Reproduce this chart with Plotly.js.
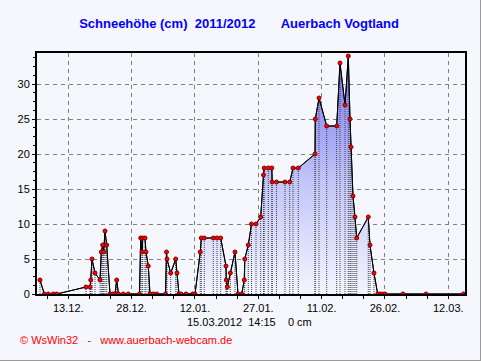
<!DOCTYPE html>
<html>
<head>
<meta charset="utf-8">
<script src="https://cdn.plot.ly/plotly-3.0.1.min.js"></script>
<style>
  html, body { margin: 0; padding: 0; background: #F5F7FD; }
  #chart { width: 480px; height: 360px; border-right: 1px solid #9a9a9a; border-bottom: 1px solid #9a9a9a; }
</style>
</head>
<body>
<div id="chart"></div>
<script>
// Snow depth readings (date/time, cm)
const readingTimes = [
  '2011-12-06 07:12','2011-12-07 07:40','2011-12-08 06:14','2011-12-09 10:48','2011-12-10 06:00',
  '2011-12-17 04:34','2011-12-18 03:22','2011-12-18 07:26','2011-12-18 14:38','2011-12-19 07:41',
  '2011-12-20 12:14','2011-12-20 19:40','2011-12-21 03:36','2011-12-21 09:07','2011-12-21 16:34',
  '2011-12-22 02:10','2011-12-22 21:07','2011-12-23 12:29','2011-12-24 01:26','2011-12-24 11:02',
  '2011-12-24 21:22','2011-12-26 00:43','2011-12-27 05:02','2011-12-29 20:38','2011-12-30 03:36',
  '2011-12-30 11:02','2011-12-30 14:53','2011-12-31 04:05','2011-12-31 09:36','2011-12-31 22:48',
  '2012-01-01 08:24','2012-01-02 03:07','2012-01-02 22:34','2012-01-05 00:29','2012-01-05 06:14',
  '2012-01-05 09:07','2012-01-06 06:00','2012-01-07 10:34','2012-01-07 18:00','2012-01-08 05:17',
  '2012-01-08 16:34','2012-01-09 21:07','2012-01-11 11:02','2012-01-12 00:14','2012-01-13 06:14',
  '2012-01-13 12:00','2012-01-14 05:02','2012-01-16 08:10','2012-01-17 05:17','2012-01-18 02:10',
  '2012-01-19 08:24','2012-01-19 10:05','2012-01-19 15:50','2012-01-20 08:53','2012-01-21 11:31',
  '2012-01-22 04:34','2012-01-23 01:41','2012-01-23 16:19','2012-01-23 19:12','2012-01-24 15:07',
  '2012-01-25 09:22','2012-01-26 11:02','2012-01-27 13:41','2012-01-28 05:31','2012-01-28 09:36',
  '2012-01-29 08:53','2012-01-30 04:48','2012-01-30 06:58','2012-01-31 07:26','2012-02-02 07:41',
  '2012-02-03 10:34','2012-02-04 05:17','2012-02-05 11:17','2012-02-09 10:19','2012-02-09 12:00',
  '2012-02-10 09:07','2012-02-12 04:48','2012-02-14 13:41','2012-02-15 08:24','2012-02-16 12:58',
  '2012-02-17 07:41','2012-02-17 17:17','2012-02-17 23:02','2012-02-18 10:19','2012-02-18 21:36',
  '2012-02-19 07:26','2012-02-22 01:12','2012-02-22 11:02','2012-02-23 09:36','2012-02-24 06:43',
  '2012-02-24 19:55','2012-02-25 11:02','2012-02-26 00:14','2012-03-01 06:29','2012-03-06 17:17',
  '2012-03-15 14:15'
];
const snowDepth = [
  2,0,0,0,0,
  1,1,2,5,3,
  2,6,7,6,9,
  7,0,0,0,2,
  0,0,0,0,8,
  6,8,8,6,4,
  0,0,0,0,6,
  5,3,5,3,0,
  0,0,0,0,6,
  8,8,8,8,8,
  4,2,1,3,6,
  0,0,2,5,7,
  10,10,11,17,18,
  18,18,16,16,16,
  16,18,18,20,25,
  28,24,24,33,27,
  34,25,21,14,11,
  8,11,7,3,0,
  0,0,0,0,0,
  0
];
const tickDates = ['2011-12-13','2011-12-28','2012-01-12','2012-01-27','2012-02-11','2012-02-26','2012-03-12'];
const titleText = 'Schneehöhe (cm)\u00a0\u00a02011/2012\u00a0\u00a0\u00a0\u00a0\u00a0\u00a0\u00a0Auerbach Vogtland';
const footerText = '15.03.2012\u00a0\u00a014:15\u00a0\u00a0\u00a0\u00a00 cm';
const creditText = '\u00a9 WsWin32\u00a0\u00a0\u00a0-\u00a0\u00a0\u00a0www.auerbach-webcam.de';

// drop lines built from the data
const dropX = [], dropY = [];
readingTimes.forEach((t, i) => { dropX.push(t, t, null); dropY.push(0, snowDepth[i], null); });

const traces = [
  {
    x: readingTimes, y: snowDepth, type: 'scatter', mode: 'lines',
    fill: 'tozeroy',
    fillgradient: { type: 'vertical', start: 0, stop: 34,
      colorscale: [[0, '#f3f5fe'], [0.45, '#c4c8f8'], [1, '#7474ee']] },
    line: { color: '#000000', width: 1 },
    hoverinfo: 'skip', showlegend: false
  },
  {
    x: dropX, y: dropY, type: 'scatter', mode: 'lines',
    line: { color: '#444444', width: 1, dash: '1px,1px' },
    connectgaps: false, hoverinfo: 'skip', showlegend: false
  },
  {
    x: readingTimes, y: snowDepth, type: 'scatter', mode: 'lines+markers',
    line: { color: '#000000', width: 1 },
    marker: { size: 4, color: '#ff0000', line: { color: '#7a0000', width: 1 } },
    showlegend: false
  }
];

const layout = {
  width: 480, height: 360,
  margin: { l: 37, r: 15, t: 53, b: 66 },
  paper_bgcolor: '#F5F7FD', plot_bgcolor: '#F5F7FD',
  font: { family: 'Liberation Sans, Arial, sans-serif', size: 11, color: '#000000' },
  title: {
    text: titleText, x: 0.498, xref: 'container', xanchor: 'center',
    y: 0.934, yref: 'container', yanchor: 'middle',
    font: { family: 'Liberation Sans, Arial, sans-serif', size: 13, color: '#0000ff', weight: 'bold' }
  },
  xaxis: {
    type: 'date',
    range: ['2011-12-05 14:05', '2012-03-15 23:00'],
    tickvals: tickDates, tickformat: '%d.%m.',
    ticks: 'outside', ticklen: 3, tickcolor: '#000', tickwidth: 1,
    showgrid: true, gridcolor: '#808080', griddash: '4px,4px', gridwidth: 1,
    showline: true, linecolor: '#000', linewidth: 2, mirror: true,
    zeroline: false,
    minor: { tick0: '2011-12-13', dtick: 432000000, ticks: 'outside', ticklen: 3, tickcolor: '#000', showgrid: false },
    tickfont: { size: 11 }
  },
  yaxis: {
    range: [0, 34.43],
    tick0: 0, dtick: 5,
    ticks: 'outside', ticklen: 3, tickcolor: '#000',
    showgrid: true, gridcolor: '#808080', griddash: '4px,4px', gridwidth: 1,
    showline: true, linecolor: '#000', linewidth: 2, mirror: true,
    zeroline: false,
    minor: { dtick: 1.25, ticks: 'outside', ticklen: 2, tickcolor: '#000', showgrid: false },
    tickfont: { size: 11 }
  },
  annotations: [
    { text: footerText, xref: 'paper', yref: 'paper', x: 0.497, y: -0.115,
      xanchor: 'center', yanchor: 'middle', showarrow: false,
      font: { size: 11, color: '#000' } },
    { text: creditText, xref: 'paper', yref: 'paper', x: -0.0444, y: -0.191,
      xanchor: 'left', yanchor: 'middle', showarrow: false,
      font: { size: 11, color: '#ff0000' } }
  ]
};

Plotly.newPlot('chart', traces, layout, { staticPlot: true, displayModeBar: false });
</script>
</body>
</html>
